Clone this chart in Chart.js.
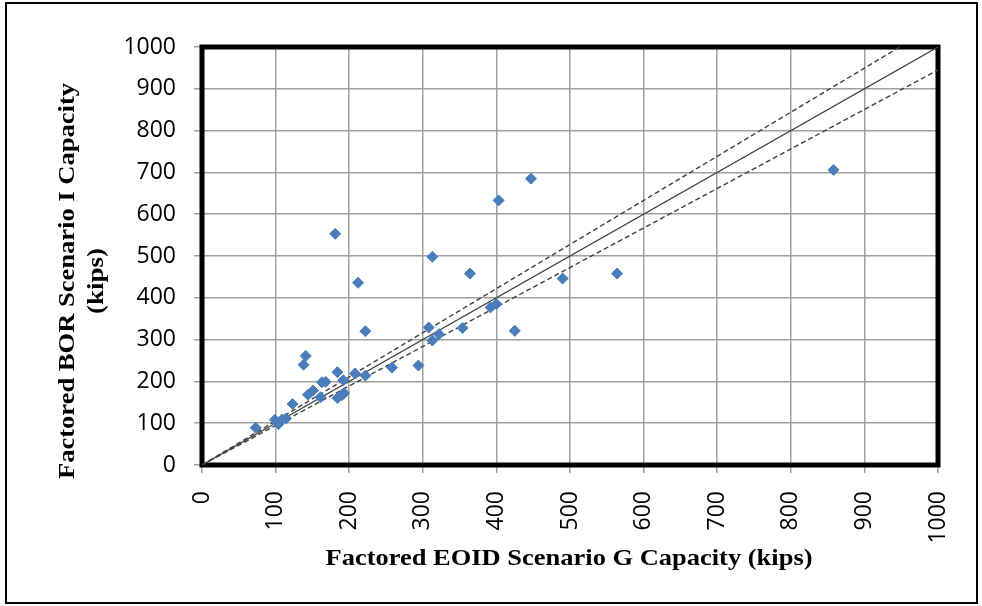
<!DOCTYPE html>
<html>
<head>
<meta charset="utf-8">
<script src="https://cdn.jsdelivr.net/npm/chart.js@4.4.1/dist/chart.umd.min.js"></script>
<style>
  html, body { margin: 0; padding: 0; background: #fff; }
  #wrap { width: 982px; height: 606px; }
</style>
</head>
<body>
<div id="wrap"><canvas id="chart" width="982" height="606"></canvas></div>
<script>
// Factored pile capacities (kips): EOID Scenario G vs BOR Scenario I
const eoidCapacity = [73, 99, 104, 109, 114, 123, 138, 141, 144, 151, 161, 163, 168, 181, 184, 184, 190, 192, 193,
  208, 212, 222, 222, 258, 294, 308, 313, 313, 322, 354, 364, 392, 400, 403, 425, 447, 490, 564, 858];
const borCapacity = [89, 108, 98, 109, 111, 146, 240, 261, 168, 178, 162, 198, 199, 553, 160, 222, 167, 203, 172,
  219, 436, 320, 214, 233, 238, 329, 498, 298, 313, 328, 458, 377, 385, 633, 321, 685, 446, 458, 706];

const axisTicks = [0, 100, 200, 300, 400, 500, 600, 700, 800, 900, 1000];
const axisMax = 1000;
// band around the 1:1 line
const upperRatio = 1.055;
const lowerRatio = 0.945;

const xTitle = "Factored EOID Scenario G Capacity (kips)";
const yTitle = ["Factored BOR Scenario I Capacity", "(kips)"];

const points = eoidCapacity.map((x, i) => ({ x, y: borCapacity[i] }));
const equalLine = [{ x: 0, y: 0 }, { x: axisMax, y: axisMax }];
const upperLine = [{ x: 0, y: 0 }, { x: axisMax / upperRatio, y: axisMax }];
const lowerLine = [{ x: 0, y: 0 }, { x: axisMax, y: axisMax * lowerRatio }];

const TICK_FONT = { family: "'Open Sans', sans-serif", size: 23 };
const TITLE_FONT = "bold 24px 'Liberation Serif', 'Times New Roman', serif";
const GRID = { color: "#a0a0a0", lineWidth: 1.5, tickLength: 8, tickColor: "#a0a0a0" };

const fixTicks = (scale) => { scale.ticks = axisTicks.map((v) => ({ value: v })); };

// serif titles are a little wide, so stretch them along the text direction
function stretchedText(ctx, text, x, y, width) {
  const k = width / ctx.measureText(text).width;
  ctx.save();
  ctx.translate(x, y);
  ctx.scale(k, 1);
  ctx.fillText(text, 0, 0);
  ctx.restore();
}

// outer box, heavy plot frame and the two axis titles
const framePlugin = {
  id: "frame",
  beforeDatasetsDraw(chart) {
    const { ctx, chartArea: a } = chart;
    ctx.save();
    ctx.strokeStyle = "#000";
    ctx.lineWidth = 5;
    ctx.strokeRect(a.left, a.top, a.right - a.left, a.bottom - a.top);
    ctx.restore();
  },
  afterDraw(chart) {
    const { ctx } = chart;
    ctx.save();
    ctx.strokeStyle = "#000";
    ctx.lineWidth = 2;
    ctx.strokeRect(6, 3, 971, 600);

    ctx.fillStyle = "#000";
    ctx.font = TITLE_FONT;
    ctx.textAlign = "center";
    ctx.textBaseline = "middle";
    stretchedText(ctx, xTitle, 569, 559, 487);

    ctx.translate(68, 281);
    ctx.rotate(-Math.PI / 2);
    stretchedText(ctx, yTitle[0], 0, 0, 396);
    stretchedText(ctx, yTitle[1], 0, 29, 66);
    ctx.restore();
  },
};

new Chart(document.getElementById("chart"), {
  type: "scatter",
  data: {
    datasets: [
      {
        data: points,
        pointStyle: "rectRot",
        pointRadius: 5.5,
        pointHoverRadius: 5.5,
        backgroundColor: "#4a7ebb",
        borderColor: "#4a7ebb",
        borderWidth: 1,
      },
      {
        type: "line",
        data: equalLine,
        borderColor: "#404040",
        borderWidth: 1.2,
        pointRadius: 0,
        fill: false,
      },
      {
        type: "line",
        data: upperLine,
        borderColor: "#404040",
        borderWidth: 1.4,
        borderDash: [5, 3],
        pointRadius: 0,
        fill: false,
      },
      {
        type: "line",
        data: lowerLine,
        borderColor: "#404040",
        borderWidth: 1.4,
        borderDash: [5, 3],
        pointRadius: 0,
        fill: false,
      },
    ],
  },
  options: {
    responsive: false,
    animation: false,
    layout: { padding: { left: 0, top: 47, right: 44, bottom: 0 } },
    plugins: { legend: { display: false }, tooltip: { enabled: false } },
    scales: {
      x: {
        type: "linear",
        min: 0,
        max: axisMax,
        afterBuildTicks: fixTicks,
        afterFit: (s) => { s.height = 141; s.paddingLeft = 0; s.paddingRight = 0; },
        grid: GRID,
        border: { display: false },
        ticks: {
          font: TICK_FONT, color: "#000", minRotation: 90, maxRotation: 90, padding: 18,
          callback: (v) => String(v),
        },
      },
      y: {
        type: "linear",
        min: 0,
        max: axisMax,
        afterBuildTicks: fixTicks,
        afterFit: (s) => { s.width = 202; s.paddingTop = 0; s.paddingBottom = 0; },
        grid: GRID,
        border: { display: false },
        ticks: { font: TICK_FONT, color: "#000", padding: 18, callback: (v) => String(v) },
      },
    },
  },
  plugins: [framePlugin],
});
</script>
</body>
</html>
